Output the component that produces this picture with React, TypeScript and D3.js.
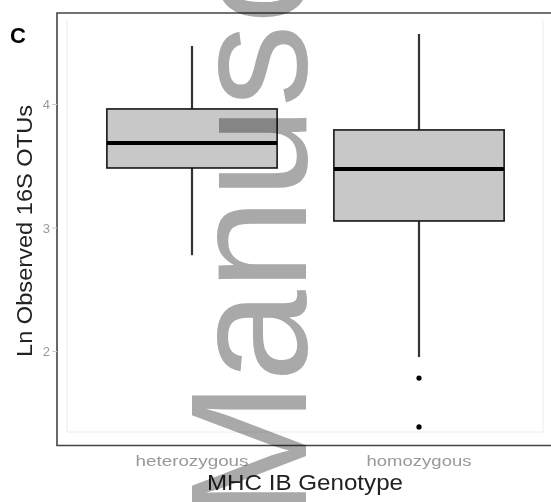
import React from "react";
import * as d3 from "d3";

const categories = ["heterozygous", "homozygous"];
const whiskerLow = [2.78, 1.955];
const q1 = [3.486, 3.057];
const median = [3.688, 3.478];
const q3 = [3.964, 3.794];
const whiskerHigh = [4.474, 4.571];
const outlierGroup = ["homozygous", "homozygous"];
const outlierValues = [1.785, 1.389];
const yTicks = [2, 3, 4];

const W = 551;
const H = 502;
const FONT = "'Liberation Sans', Arial, Helvetica, sans-serif";

export default function App() {
  const y = d3.scaleLinear().domain([2, 4]).range([351.5, 104.5]);
  const x = d3.scaleBand().domain(categories).range([78.5, 532.5]);
  const bw = x.bandwidth() * 0.75;
  const cx = (c: string) => (x(c) as number) + x.bandwidth() / 2;
  const tickLen = [113, 105];

  return (
    <svg
      width={W}
      height={H}
      viewBox={`0 0 ${W} ${H}`}
      style={{ position: "absolute", left: 0, top: 0, background: "#fff" }}
      fontFamily={FONT}
    >
      <rect x={0} y={0} width={W} height={H} fill="#fff" />
      {/* faint inner frame */}
      <path d="M67,20 V432 H543 V20" fill="none" stroke="#ececec" strokeWidth={1} />
      {/* panel border */}
      <path d={`M${W},13 H57 V445.5 H${W}`} fill="none" stroke="#444" strokeWidth={1.6} />
      {/* y ticks */}
      {yTicks.map((t) => (
        <g key={t}>
          <line x1={52} x2={57} y1={y(t)} y2={y(t)} stroke="#ccc" strokeWidth={1} />
          <text x={50} y={y(t)} dy="0.35em" textAnchor="end" fontSize={13} fill="#999">
            {t}
          </text>
        </g>
      ))}
      {/* boxes */}
      {categories.map((c, i) => {
        const xc = cx(c);
        return (
          <g key={c}>
            <line x1={xc} x2={xc} y1={y(q3[i])} y2={y(whiskerHigh[i])} stroke="#333" strokeWidth={2.2} />
            <line x1={xc} x2={xc} y1={y(q1[i])} y2={y(whiskerLow[i])} stroke="#333" strokeWidth={2.2} />
            <rect
              x={xc - bw / 2}
              y={y(q3[i])}
              width={bw}
              height={y(q1[i]) - y(q3[i])}
              fill="#c8c8c8"
              stroke="#151515"
              strokeWidth={1.6}
            />
            <line
              x1={xc - bw / 2}
              x2={xc + bw / 2}
              y1={y(median[i])}
              y2={y(median[i])}
              stroke="#000"
              strokeWidth={4}
            />
            <text
              x={xc}
              y={466}
              textAnchor="middle"
              fontSize={14}
              fill="#999"
              textLength={tickLen[i]}
              lengthAdjust="spacingAndGlyphs"
            >
              {c}
            </text>
          </g>
        );
      })}
      {outlierValues.map((v, i) => (
        <circle key={i} cx={cx(outlierGroup[i])} cy={y(v)} r={2.6} fill="#000" />
      ))}
      {/* axis titles */}
      <text x={305} y={490} textAnchor="middle" fontSize={22} fill="#222" textLength={196} lengthAdjust="spacingAndGlyphs">
        MHC IB Genotype
      </text>
      <text
        transform="translate(32,231) rotate(-90)"
        textAnchor="middle"
        fontSize={22}
        fill="#222"
        textLength={252}
        lengthAdjust="spacingAndGlyphs"
      >
        Ln Observed 16S OTUs
      </text>
      {/* panel label */}
      <text x={10} y={43} fontSize={22} fontWeight="bold" fill="#000">
        C
      </text>
      {/* watermark */}
      <text
        transform="translate(306,519.5) rotate(-90)"
        fontSize={165}
        fill="#a9a9a9"
        style={{ mixBlendMode: "multiply" }}
      >
        Manuscript
      </text>
    </svg>
  );
}
